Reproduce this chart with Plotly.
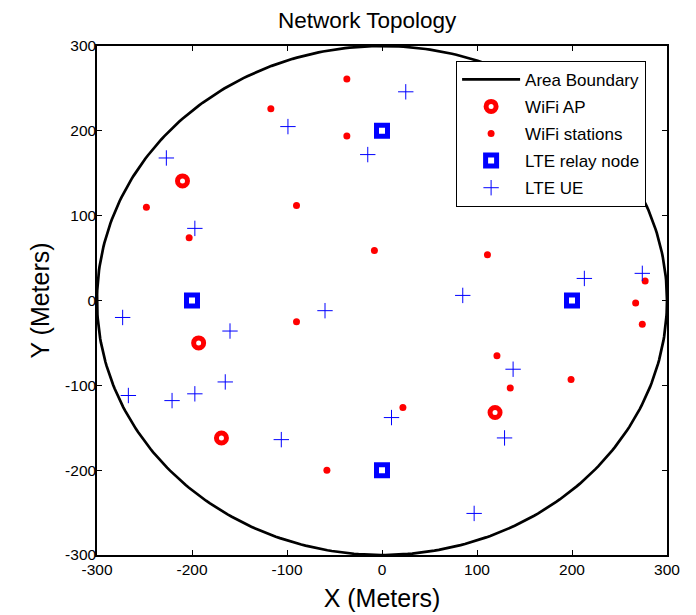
import numpy as np
import plotly.graph_objects as go

# ---- data ----
area_radius = 300

ap_x = [-210, -193, -169, 119]
ap_y = [141, -50, -162, -132]

sta_x = [-37, -117, -37, -248, -90, -203, -8, 111, 277, 267, -90, -58, 274, 121, 135, 199, 22]
sta_y = [261, 226, 194, 110, 112, 74, 59, 54, 23, -3, -25, -200, -28, -65, -103, -93, -126]

relay_x = [-200, 0, 0, 200]
relay_y = [0, 200, -200, 0]

ue_x = [-227, -99, -15, -197, -60, 25, 85, 213, 274, -273, -160, -165, -267, -221, -197, -106, 10, 138, 129, 97]
ue_y = [168, 205, 172, 85, -12, 246, 6, 26, 32, -20, -36, -96, -112, -118, -110, -164, -138, -81, -162, -251]

axis_ticks = [-300, -200, -100, 0, 100, 200, 300]

# ---- boundary ----
theta = np.linspace(0, 2 * np.pi, 400)
bx = area_radius * np.cos(theta)
by = area_radius * np.sin(theta)

FONT = "Liberation Sans, Arial"

fig = go.Figure()
fig.add_trace(go.Scatter(x=bx, y=by, mode="lines", name="Area Boundary",
                         line=dict(color="black", width=2.7), legendgroup="a"))
fig.add_trace(go.Scatter(x=ap_x, y=ap_y, mode="markers", name="WiFi AP",
                         marker=dict(symbol="circle-open", size=10, color="red",
                                     line=dict(color="red", width=5)), legendgroup="b"))
fig.add_trace(go.Scatter(x=sta_x, y=sta_y, mode="markers", name="WiFi stations",
                         marker=dict(symbol="circle", size=7, color="red", line=dict(width=0)),
                         legendgroup="c"))
fig.add_trace(go.Scatter(x=relay_x, y=relay_y, mode="markers", name="LTE relay node",
                         marker=dict(symbol="square-open", size=11, color="blue",
                                     line=dict(color="blue", width=5)), legendgroup="d"))
fig.add_trace(go.Scatter(x=ue_x, y=ue_y, mode="markers", name="LTE UE",
                         marker=dict(symbol="cross-thin-open", size=11, color="blue",
                                     line=dict(color="blue", width=1)), legendgroup="e"))

axis_common = dict(
    range=[-300, 300], tickvals=axis_ticks, ticktext=[str(v) for v in axis_ticks],
    ticks="inside", ticklen=5, tickcolor="black", showgrid=False, zeroline=False,
    showline=True, linecolor="black", linewidth=1.5, mirror="ticks", automargin=False,
    tickfont=dict(family=FONT, size=15.5, color="black"),
)

fig.update_layout(
    width=688, height=607,
    margin=dict(l=89, r=29, t=38, b=60),
    paper_bgcolor="white", plot_bgcolor="white",
    title=dict(text="Network Topology", x=0.522, xanchor="center", y=0.98, yanchor="middle",
               font=dict(family=FONT, size=22.5, color="black")),
    xaxis=dict(**axis_common, ticklabelstandoff=0,
               title=dict(text="X (Meters)", standoff=12,
                          font=dict(family=FONT, size=25, color="black"))),
    yaxis=dict(**axis_common, ticklabelstandoff=-4,
               title=dict(text="Y (Meters)", standoff=8,
                          font=dict(family=FONT, size=25, color="black"))),
    legend=dict(x=0.63, y=0.971, xanchor="left", yanchor="top",
                bordercolor="black", borderwidth=1, bgcolor="white",
                font=dict(family=FONT, size=17, color="black"),
                traceorder="grouped", tracegroupgap=2, itemwidth=58),
    showlegend=True,
)

fig.write_html("out.html")
